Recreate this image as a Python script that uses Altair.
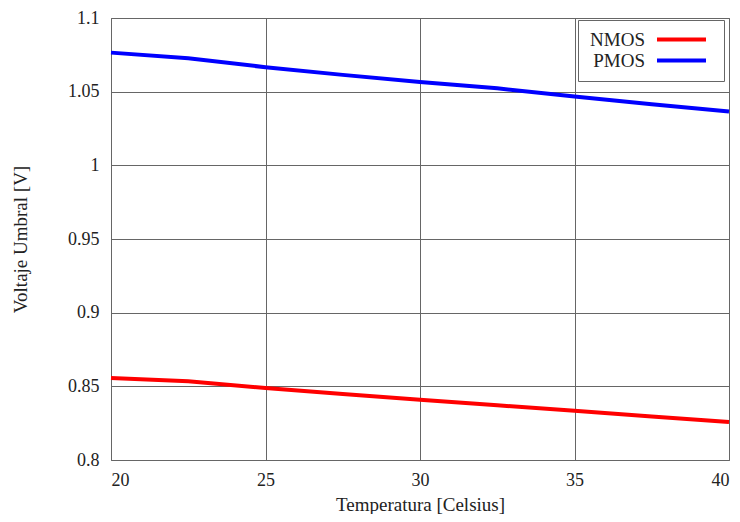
import altair as alt
import pandas as pd

temps = [20, 22.5, 25, 27.5, 30, 32.5, 35, 37.5, 40]
nmos = [0.8557, 0.8534, 0.8489, 0.8448, 0.8409, 0.8371, 0.8335, 0.8296, 0.8258]
pmos = [1.0765, 1.0727, 1.0666, 1.0614, 1.0566, 1.0523, 1.0467, 1.0415, 1.0365]
series = ["NMOS", "PMOS"]
colors = ["#ff0000", "#0000ff"]
x_ticks = [20, 25, 30, 35, 40]
y_ticks = [0.8, 0.85, 0.9, 0.95, 1.0, 1.05, 1.1]

df = pd.DataFrame(
    {"T": temps * 2, "V": nmos + pmos, "s": ["NMOS"] * len(temps) + ["PMOS"] * len(temps)}
)

FONT = "Liberation Serif"

chart = (
    alt.Chart(df)
    .mark_line(strokeWidth=4)
    .encode(
        x=alt.X(
            "T:Q",
            scale=alt.Scale(domain=[20, 40], nice=False),
            axis=alt.Axis(values=x_ticks, title="Temperatura [Celsius]", format="d"),
        ),
        y=alt.Y(
            "V:Q",
            scale=alt.Scale(domain=[0.8, 1.1], nice=False, zero=False),
            axis=alt.Axis(values=y_ticks, title="Voltaje Umbral [V]", format=".2~f"),
        ),
        color=alt.Color(
            "s:N",
            scale=alt.Scale(domain=series, range=colors),
            legend=alt.Legend(
                title=None,
                orient="none",
                legendX=467,
                legendY=2,
                symbolType="M-4.9,0H4.9",
                symbolSize=100,
                symbolStrokeWidth=4,
                labelAlign="right",
                labelOffset={"expr": "-46"},
                symbolOffset=84,
                rowPadding=1,
                padding=10,
                strokeColor="#666666",
                fillColor="white",
                labelFont=FONT,
                labelFontSize=19,
                labelColor="#222222",
            ),
        ),
    )
    .properties(
        width=618,
        height=442,
        autosize=alt.AutoSizeParams(type="none"),
        padding={"left": 103, "top": 10, "right": 3, "bottom": 54},
    )
    .configure_view(stroke="#666666", strokeWidth=1)
    .configure_axis(
        grid=True,
        gridColor="#666666",
        gridOpacity=1,
        gridWidth=1,
        domain=False,
        ticks=False,
        labelFont=FONT,
        labelFontSize=18,
        labelColor="#222222",
        titleFont=FONT,
        titleFontSize=19,
        titleFontWeight="normal",
        titleColor="#222222",
    )
    .configure_axisX(labelPadding=11, titlePadding=6)
    .configure_axisY(labelPadding=12, titleX=-91, titleBaseline="middle")
)

chart.save("out.html", embed_options={"renderer": "svg", "actions": False})
